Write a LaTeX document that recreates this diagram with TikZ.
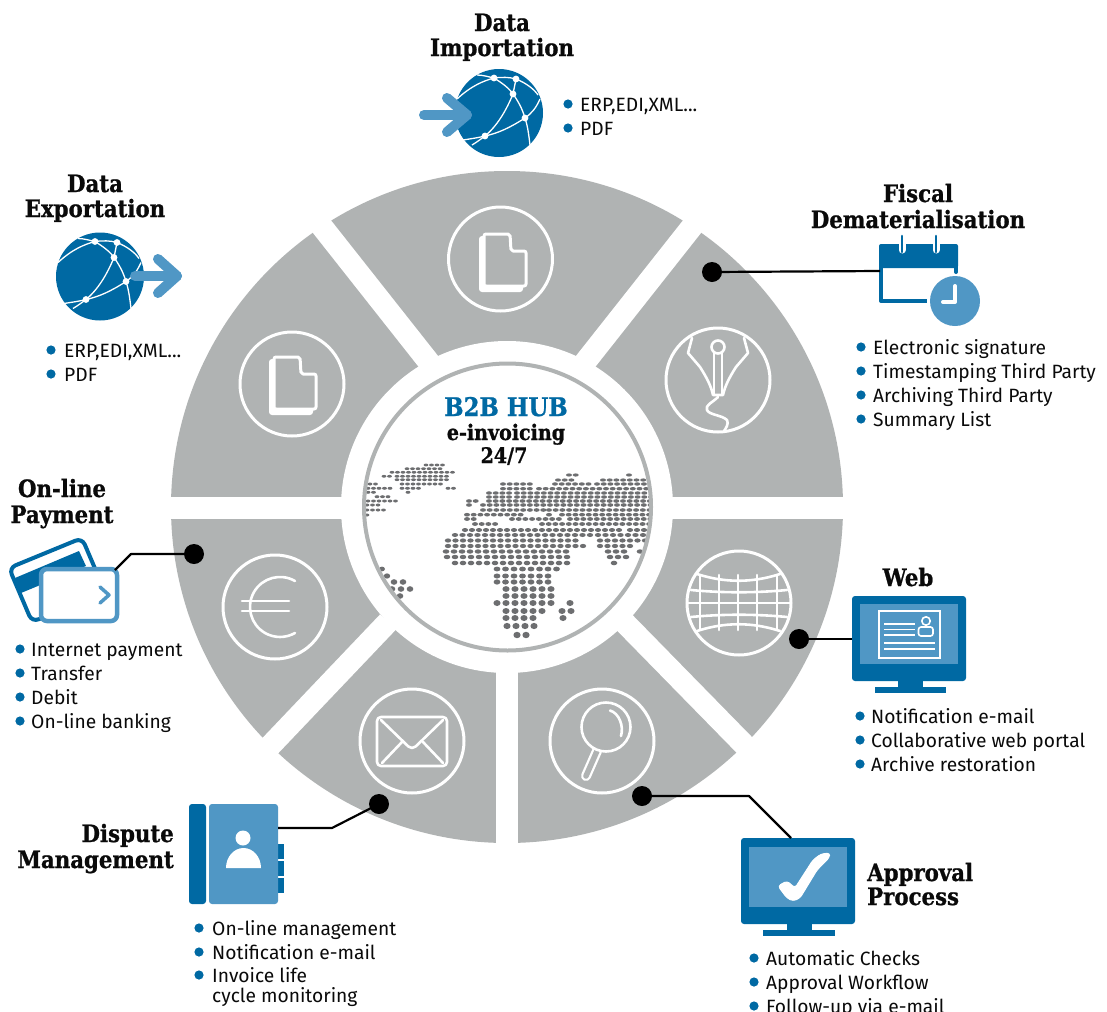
\documentclass[tikz,border=0pt]{standalone}
\usepackage{fontspec}
\setmainfont{Fira Sans}
\newfontfamily\headf[FakeStretch=0.89,BoldFeatures={FakeBold=0.9}]{DejaVu Serif}
\definecolor{dkblue}{HTML}{0069A3}
\definecolor{ltblue}{HTML}{5097C5}
\definecolor{wheelgrey}{HTML}{B0B3B3}
\definecolor{mapgrey}{HTML}{6D6E70}
\definecolor{inkblack}{HTML}{0A0A0A}
\tikzset{
  gap/.style={white,line width=22bp},
  iconring/.style={draw=white,line width=3bp,fill=wheelgrey},
  iconline/.style={draw=white,line width=2.6bp,line cap=round,line join=round},
  dotnode/.style={circle,fill=black,inner sep=0pt,minimum size=20bp},
  conn/.style={draw=black,line width=2.2bp,line join=round},
  headtext/.style={inner sep=0pt,anchor=base,yshift=-1bp,text=inkblack,font=\headf\bfseries\fontsize{24}{25.5}\selectfont},
  hubtext/.style={inner sep=0pt,anchor=base,text=inkblack,font=\headf\bfseries\fontsize{21.5}{25.5}\selectfont},
  itemtext/.style={inner sep=0pt,anchor=base west,align=left,text=inkblack,font=\fontsize{19.3}{20}\selectfont},
  globeline/.style={white,line width=1.3bp},
  arrowline/.style={ltblue,line width=10bp,line cap=round,line join=round},
  mdot/.style={fill=mapgrey}
}
\newcommand\bitem[5]{\fill[dkblue] (#2,#4-7) circle[radius=4.6];\node[itemtext] (#1) at (#3,#4) {#5};}
\newcommand\mdots[5]{\foreach \a/\b in {#5}{\pgfmathsetmacro\nn{int(round((\b-\a)/#2))}\foreach \i in {0,...,\nn}{\fill[mdot] (\a+\i*#2,#1) ellipse[x radius=#3,y radius=#4];}}}
\newcommand\globeicon[2]{\begin{scope}[shift={(#1,#2)}]
  \fill[dkblue] (0,0) circle[radius=44];
  \draw[globeline] (-42,-14) .. controls (-28,-27) and (-16,-32) .. (-5,-35)
     .. controls (3,-36) and (10,-36) .. (17,-34);
  \draw[globeline] (-22,-38) .. controls (-16,-38) and (-10,-36) .. (-5,-35) .. controls (3,-30) and (10,-25) .. (14,-19);
  \draw[globeline] (17,-34) -- (14,-19) .. controls (19,-12) and (23,-5) .. (26,5) .. controls (29,14) and (30,24) .. (31,32);
  \draw[globeline] (17,-34) .. controls (27,-30) and (35,-24) .. (39,-18);
  \draw[globeline] (41,-14) .. controls (37,-5) and (33,0) .. (26,5) .. controls (12,14) and (0,20) .. (-14,23) .. controls (-22,25) and (-30,26) .. (-36,27);
  \draw[globeline] (14,-19) .. controls (7,-2) and (-2,13) .. (-14,23) .. controls (-18,26) and (-22,29) .. (-27,32);
  \foreach \p in {(-5,-35),(17,-34),(14,-19),(26,5),(-14,23)}{\fill[white] \p circle[radius=3.4];}
\end{scope}}
\newcommand\docicon[2]{\begin{scope}[shift={(#1,#2)}]
  \fill[white,rounded corners=3bp] (-23,-25) -- (-23,31) -- (21,31) -- (21,20) -- (-6,-25) -- cycle;
  \draw[iconline,line width=3bp,fill=wheelgrey,rounded corners=2bp] (-18,-27) -- (8,-27) -- (9,-10) -- (24,-10) -- (24,25) -- (-18,25) -- cycle;
\end{scope}}
\begin{document}
\begin{tikzpicture}[x=1bp,y=-1bp]
\useasboundingbox (0,0) rectangle (1107,1012);
\fill[white] (0,0) rectangle (1107,1012);
% wheel
\fill[wheelgrey] (507,507) circle[radius=336];
\draw[gap] (297,195) -- (432,366);
\draw[gap] (717,195) -- (582,366);
\draw[gap] (250,767) -- (388,622);
\draw[gap] (764,765) -- (624,622);
\draw[gap] (160,507.5) -- (400,507.5);
\draw[gap] (854,507.5) -- (620,507.5);
\draw[gap] (507,855) -- (507,620);
\fill[white] (507,507) circle[radius=166];
% map
\begin{scope}
\clip (507.5,507) circle[radius=142];
\mdots{465}{5.5}{2.4}{1.4}{426/442}
\mdots{468.7}{5.5}{2.4}{1.4}{407/442}
\mdots{472.3}{5.5}{2.4}{1.4}{392/452}
\mdots{476.3}{5.5}{2.4}{1.4}{384/390,397/447}
\mdots{479.7}{5.5}{2.4}{1.4}{397/445}
\mdots{484}{5.5}{2.4}{1.5}{402/440,370/375}
\mdots{488.3}{5.5}{2.4}{1.5}{402/417,448/456,368/390}
\mdots{492.3}{5.5}{2.4}{1.5}{408/408,368/375}
\mdots{496.7}{5.5}{2.4}{1.5}{377/388}
\mdots{501}{5.5}{2.4}{1.5}{368/393}
\mdots{505}{5.5}{2.4}{1.5}{367/378}
\mdots{510}{5.5}{2.4}{1.5}{367/383}
\mdots{515}{5.5}{2.4}{1.5}{367/367}
\mdots{475}{6.7}{3}{1.6}{569/577,629/629}
\mdots{480}{6.7}{3}{1.6}{558/573,603/645}
\mdots{484}{6.7}{3}{1.7}{503/532,555/588,597/647}
\mdots{488.7}{6.7}{3}{1.7}{503/532,539/645}
\mdots{493}{6.7}{3}{1.7}{489/507,517/645}
\mdots{497}{6.7}{3}{1.7}{489/507,517/648}
\mdots{501}{6.7}{3}{1.8}{469/477,489/650}
\mdots{505}{6.7}{3}{1.8}{469/469,483/650}
\mdots{510}{6.7}{3}{1.8}{483/543,549/650}
\mdots{514.7}{6.7}{3}{1.8}{467/523,549/549,562/650}
\mdots{519}{6.7}{3}{1.9}{467/475,512/560,570/650}
\mdots{524}{6.7}{3}{1.9}{475/492,542/650}
\mdots{530}{7}{3.1}{2}{465/622,630/650}
\mdots{535}{7.5}{3.2}{2}{455/590,598/645}
\mdots{540.5}{7.5}{3.2}{2.1}{448/578,600/645}
\mdots{546}{7.5}{3.2}{2.1}{448/580,600/630}
\mdots{551.5}{8}{3.3}{2.2}{446/567,608/620,640/640}
\mdots{557}{8}{3.3}{2.2}{447/567,610/623}
\mdots{563}{8}{3.3}{2.3}{455/567,614/614}
\mdots{569}{8.5}{3.4}{2.4}{497/557}
\mdots{576}{8.5}{3.4}{2.5}{497/549}
\mdots{582}{8.5}{3.4}{2.6}{497/549}
\mdots{589}{9}{3.6}{2.9}{506/552}
\mdots{596}{9}{3.6}{2.9}{506/552}
\mdots{603}{9}{3.6}{3}{497/552,570/570}
\mdots{611}{9}{3.6}{3}{506/544,562/571}
\mdots{618}{9}{3.6}{3}{506/535,563/563}
\mdots{626}{9}{3.6}{3.1}{507/536}
\mdots{635}{9}{3.6}{3.2}{517/526}
\mdots{569}{8}{3}{2.4}{382/382}
\mdots{576}{8}{3.2}{2.6}{387/387}
\mdots{582}{9}{3.3}{2.8}{394/403}
\mdots{589}{9}{3.3}{2.8}{392/410}
\mdots{596}{9}{3.3}{2.8}{400/400}
\end{scope}
\draw[wheelgrey,line width=4bp] (507.5,507) circle[radius=143.5];
% hub text
\node[hubtext,text=dkblue,font=\headf\bfseries\fontsize{25.8}{25}\selectfont] (hub) at (506,416) {B2B HUB};
\node[hubtext] (hubb) at (506,440) {e-invoicing};
\node[hubtext] (hubc) at (504,463) {24/7};
% icon rings
\foreach \c in {(500.5,259),(718,380),(739,603),(602,741),(412,741),(275,607),(292,384)}{\draw[iconring] \c circle[radius=52];}
% document icons
\docicon{502}{261}
\docicon{292}{384}
% pen nib
\draw[iconline] (692,338) -- (688,353) -- (700,367) .. controls (707,378) and (711,386) .. (713,395) -- (723,395) .. controls (725,386) and (729,378) .. (736,367) -- (748,353) -- (744,338);
\draw[iconline,line width=2bp] (714,353) -- (714,395) (722,353) -- (722,395);
\draw[iconline] (718,347) circle[radius=6.5];
\draw[iconline] (718,397) .. controls (712,403) and (705,405) .. (707,410) .. controls (709,415) and (722,415) .. (727,420) .. controls (729,424) and (726,428) .. (724,431);
% grid globe
\draw[iconline] (697,574) .. controls (725,583) and (752,583) .. (780,574);
\draw[iconline] (697,631) .. controls (725,622) and (752,622) .. (780,631);
\draw[iconline] (691,590) .. controls (722,593) and (756,593) .. (787,590);
\draw[iconline] (687,603) -- (790,603);
\draw[iconline] (691,617) .. controls (722,614) and (756,614) .. (787,617);
\foreach \vx in {700,719,738,757,777}{\draw[iconline] (\vx,575) -- (\vx,630);}
% magnifier
\draw[white,line width=10bp,line cap=round] (597,751) -- (586,776);
\draw[wheelgrey,line width=5.5bp,line cap=round] (597,751) -- (586,776);
\draw[iconline,fill=wheelgrey] (606,727) circle[radius=24.5];
\draw[iconline] (610,710.5) .. controls (619,713) and (624,726) .. (621,736);
% mail
\draw[iconline,rounded corners=4bp] (377,717) rectangle (447,766);
\draw[iconline,rounded corners=5bp] (381,720) -- (412,750) -- (443,720);
\draw[iconline] (382,763) -- (402,742) (443,763) -- (423,742);
% euro
\draw[iconline] (295,581) arc[start angle=-60,end angle=-300,radius=30];
\draw[iconline] (242,601) -- (289,601) (242,611) -- (289,611);
% Data importation
\node[headtext] (impa) at (502,30) {Data};
\node[headtext] (impb) at (502,55) {Importation};
\globeicon{499}{113}
\draw[arrowline] (424,115) -- (467,115);
\draw[arrowline] (447,98) -- (467,115) -- (447,132);
\bitem{imp1}{568}{580}{111}{ERP,EDI,XML...}
\bitem{imp2}{568}{580}{135}{PDF}
% Data exportation
\node[headtext] (expa) at (95,191) {Data};
\node[headtext] (expb) at (95,216) {Exportation};
\globeicon{100}{276.5}
\draw[arrowline] (135,276) -- (177,276);
\draw[arrowline] (158,259) -- (177,276) -- (158,293);
\bitem{exp1}{51}{64}{357}{ERP,EDI,XML...}
\bitem{exp2}{51}{64}{381}{PDF}
% Fiscal
\node[headtext] (fisa) at (918,201) {Fiscal};
\node[headtext] (fisb) at (918,227) {Dematerialisation};
\draw[dkblue,line width=4bp,line join=round] (881,266) -- (881,301) -- (927,301);
\draw[dkblue,line width=4bp,line cap=round] (956,266) -- (956,272);
\fill[dkblue,rounded corners=2bp] (879,244) rectangle (958,268);
\draw[white,line width=7bp,line cap=round] (902,232) -- (902,250);
\draw[white,line width=7bp,line cap=round] (936,232) -- (936,250);
\draw[dkblue,line width=2.6bp,line cap=round] (902,236) -- (902,252);
\draw[dkblue,line width=2.6bp,line cap=round] (936,236) -- (936,252);
\coordinate (calendar) at (880,271);
\fill[ltblue] (955,301) circle[radius=25];
\draw[white,line width=4bp,line cap=round,line join=round] (955,286) -- (955,302) -- (943,302);
\bitem{fis1}{861}{873}{354}{Electronic signature}
\bitem{fis2}{861}{873}{378}{Timestamping Third Party}
\bitem{fis3}{861}{873}{402}{Archiving Third Party}
\bitem{fis4}{861}{873}{426}{Summary List}
% Web
\node[headtext] (webh) at (908,585) {Web};
\fill[dkblue,rounded corners=3bp] (852,596) rectangle (966,681);
\fill[ltblue] (860,604) rectangle (958,664);
\fill[dkblue] (898,681) rectangle (923,687);
\fill[dkblue] (875,687) rectangle (946,693);
\draw[white,line width=1.6bp] (879,611) rectangle (940,658);
\draw[white,line width=1.6bp] (884,624) -- (915,624) (884,629.5) -- (915,629.5) (884,635) -- (915,635) (884,643) -- (935,643) (884,649) -- (935,649);
\draw[white,line width=1.6bp] (926,621) circle[radius=4.2];
\draw[white,line width=1.6bp,rounded corners=2.5bp] (918.5,636) -- (918.5,627) -- (933,627) -- (933,636) -- cycle;
\coordinate (webmon) at (852,639);
\bitem{web1}{860}{871}{723}{Notification e-mail}
\bitem{web2}{860}{871}{747}{Collaborative web portal}
\bitem{web3}{860}{871}{771}{Archive restoration}
% Approval
\fill[dkblue,rounded corners=3bp] (741,838) rectangle (855,924);
\fill[ltblue] (749,847) rectangle (847,907);
\fill[dkblue] (787,924) rectangle (812,930);
\fill[dkblue] (763,930) rectangle (835,936);
\fill[white,draw=white,line width=1bp,line join=round,rounded corners=3bp] (778,886) -- (787,881) -- (795,888) -- (813,860) -- (821,854) -- (830,853) -- (829,858) -- (817,870) -- (800,898) -- (793,901) -- (787,898) -- cycle;
\coordinate (apmon) at (791,838);
\node[headtext,anchor=base west] (apa) at (867,880) {Approval};
\node[headtext,anchor=base west] (apb) at (867,904) {Process};
\bitem{ap1}{754}{766}{965}{Automatic Checks}
\bitem{ap2}{754}{766}{989}{Approval Workflow}
\bitem{ap3}{754}{766}{1013}{Follow-up via e-mail}
% Dispute
\node[headtext,anchor=base east] (disa) at (174,841) {Dispute};
\node[headtext,anchor=base east] (disb) at (174,867) {Management};
\fill[dkblue] (278,844) rectangle (284,859);
\fill[dkblue] (278,861) rectangle (284,876);
\fill[dkblue] (278,878) rectangle (284,893);
\fill[dkblue,rounded corners=3bp] (189,804) -- (206,804) -- (206,904) -- (189,904) -- cycle;
\fill[ltblue,rounded corners=3bp] (209,804) -- (278,804) -- (278,904) -- (209,904) -- cycle;
\fill[white] (243,838) circle[radius=7.5];
\fill[white] (226,868) arc[start angle=180,end angle=360,x radius=17.5,y radius=20] -- cycle;
\coordinate (book) at (278,828);
\bitem{dis1}{199}{212}{935}{On-line management}
\bitem{dis2}{199}{212}{959}{Notification e-mail}
\bitem{dis3}{199}{212}{982}{Invoice life}
\node[itemtext] (dis3b) at (212,1002) {cycle monitoring};
% On-line payment
\node[headtext] (paya) at (62,496) {On-line};
\node[headtext] (payb) at (62,522) {Payment};
\draw[dkblue,line width=4bp,fill=white,rounded corners=7bp] (9,568) -- (82,538) -- (105,592) -- (32,622) -- cycle;
\fill[dkblue] (15,578) -- (79,551) -- (86,566) -- (21,593) -- cycle;
\draw[ltblue,line width=4.5bp,fill=white,rounded corners=6bp] (41,569) rectangle (117,621);
\draw[ltblue,line width=3.5bp,line cap=round,line join=round] (100,587) -- (109,595) -- (100,603);
\coordinate (cards) at (115,570);
\bitem{pay1}{20}{31}{656}{Internet payment}
\bitem{pay2}{20}{31}{680}{Transfer}
\bitem{pay3}{20}{31}{704}{Debit}
\bitem{pay4}{20}{31}{728}{On-line banking}
% connectors
\node[dotnode] (dfis) at (712,272) {};
\node[dotnode] (dweb) at (799,639) {};
\node[dotnode] (dap) at (642,796) {};
\node[dotnode] (ddis) at (379,804) {};
\node[dotnode] (dpay) at (194,554) {};
\draw[conn] (dfis) -- (calendar);
\draw[conn] (dweb) -- (webmon);
\draw[conn] (dap.center) -- (749,796) -- (apmon);
\draw[conn] (ddis.center) -- (332,828) -- (book);
\draw[conn] (dpay.center) -- (131,554) -- (cards);
\end{tikzpicture}
\end{document}
